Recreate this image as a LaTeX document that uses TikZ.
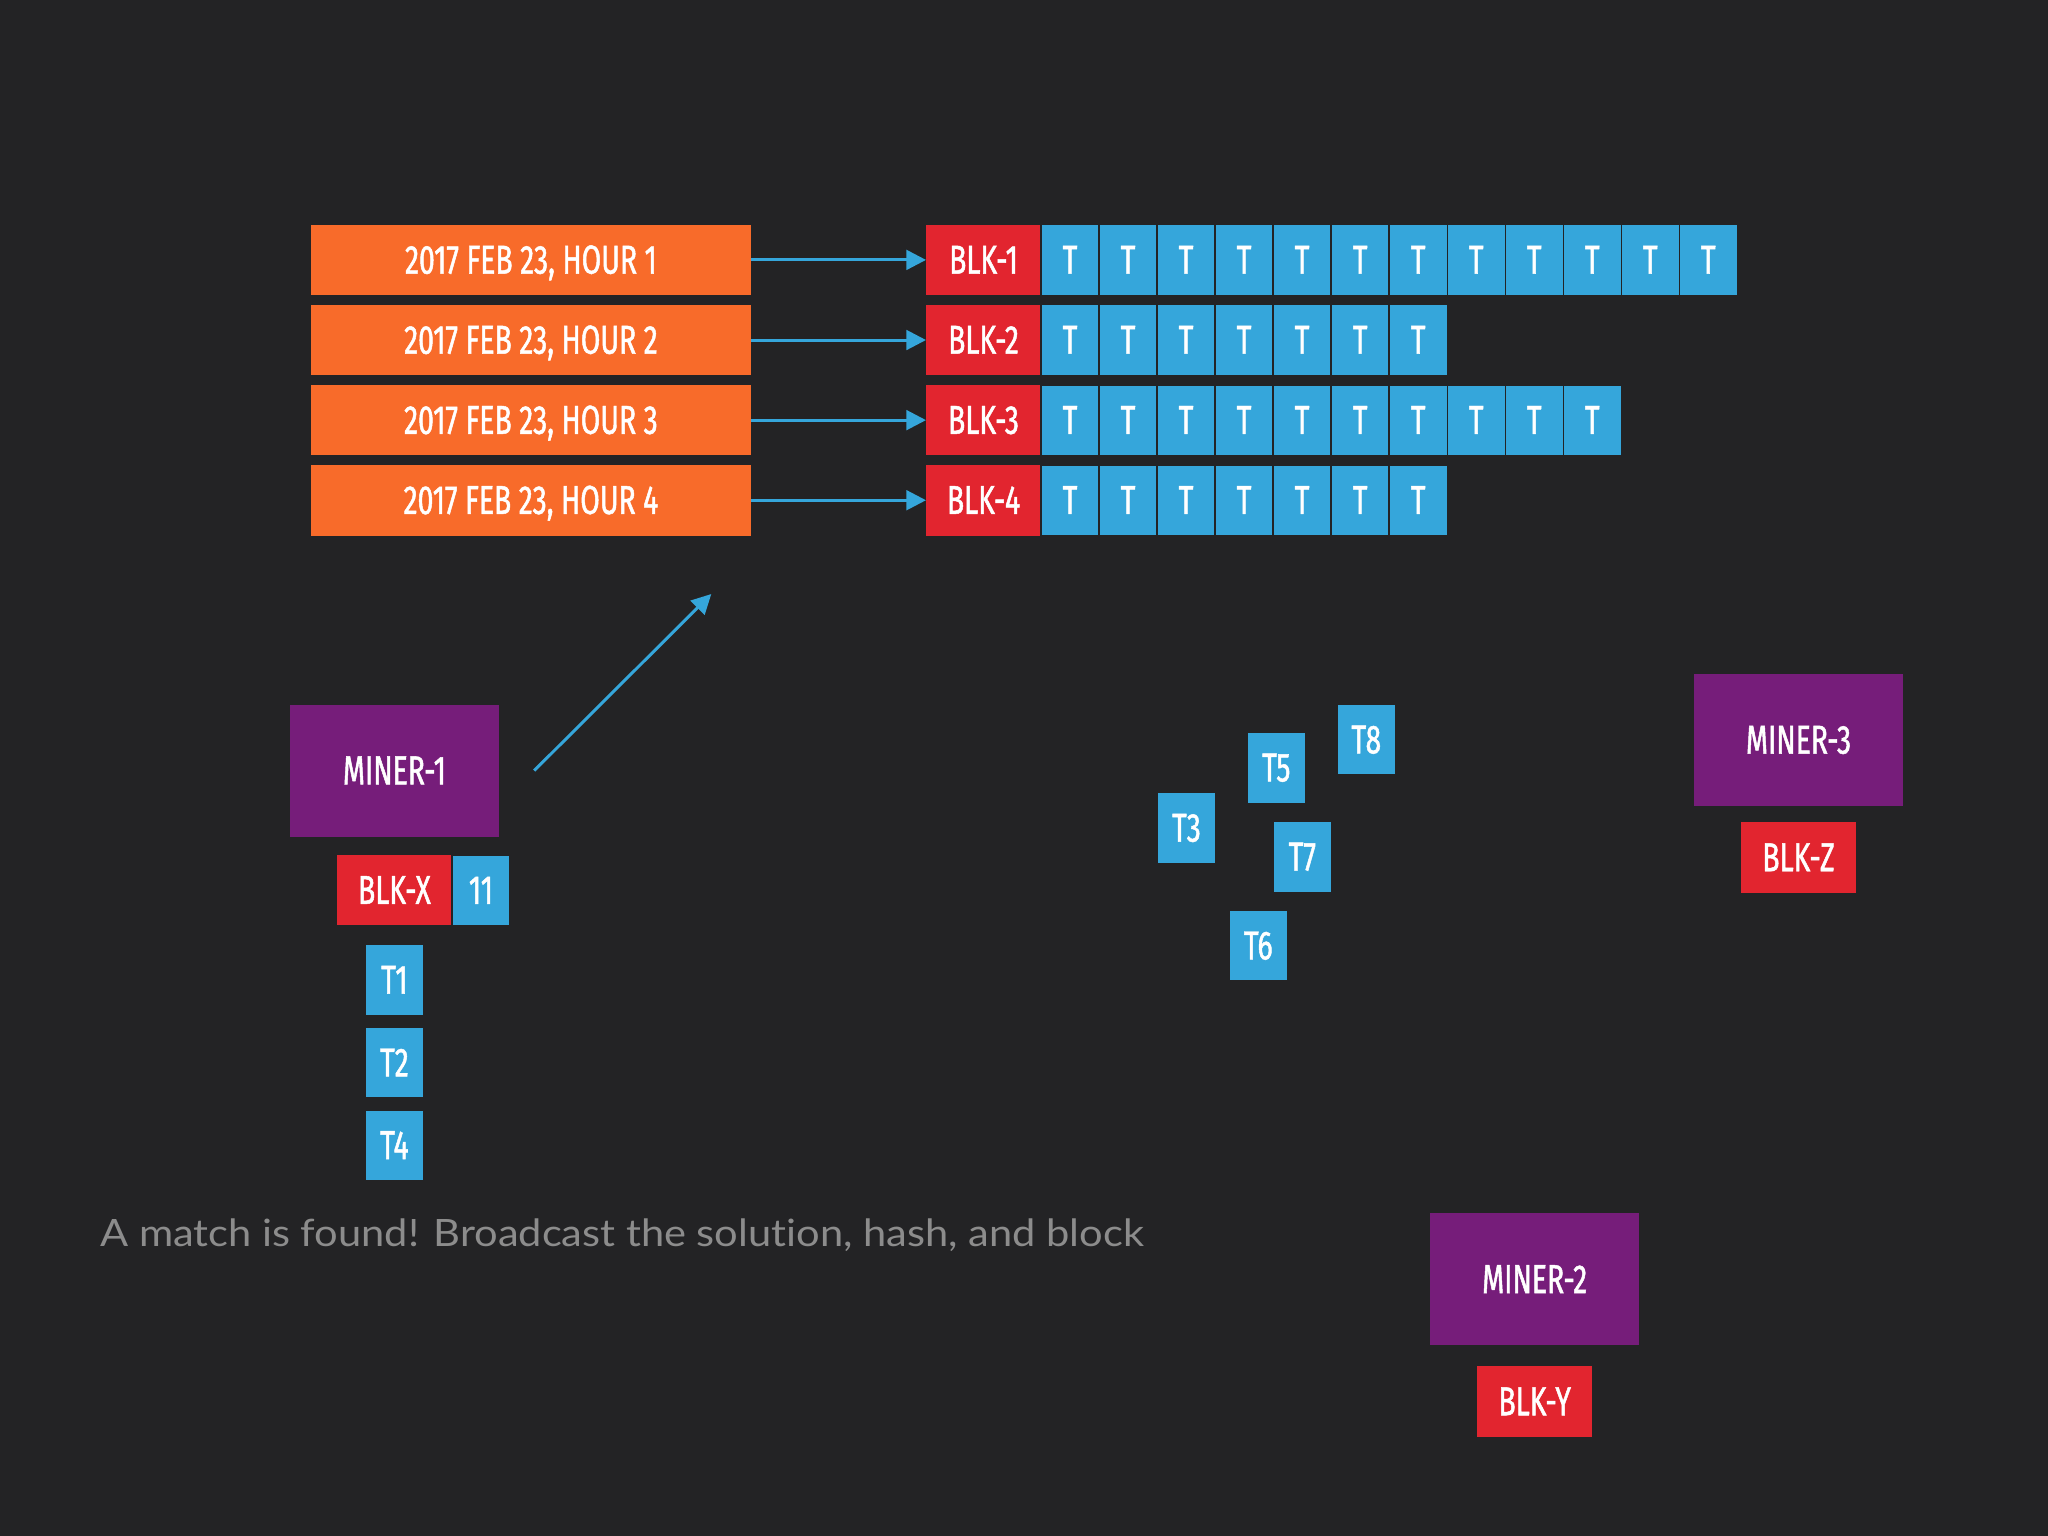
\documentclass[tikz,border=0pt]{standalone}
\usepackage{fontspec}
\setmainfont{Lato}
\newfontfamily\condfont[FakeStretch=0.70, FakeBold=1.2]{Fira Sans}
\newfontfamily\capfont[FakeStretch=1.105, Ligatures=NoCommon]{Lato}
\usetikzlibrary{positioning,arrows.meta}
\definecolor{bgdark}{HTML}{232325}
\definecolor{hourorange}{HTML}{F86B2A}
\definecolor{blkred}{HTML}{E2252F}
\definecolor{txblue}{HTML}{35A6DB}
\definecolor{minerpurple}{HTML}{761D7A}
\definecolor{capgray}{HTML}{8C8C8C}
\tikzset{
  box/.style={
    rectangle,
    inner sep=0pt, outer sep=0pt,
    text=white,
    font=\condfont\fontsize{8.8}{10}\selectfont,
    text height=2.1mm, text depth=0pt,
    minimum height=5.4mm},
  hourbox/.style={box, fill=hourorange, minimum width=33.7mm},
  blkbox/.style={box, fill=blkred, minimum width=8.8mm},
  txcell/.style={box, fill=txblue, draw=bgdark, line width=0.3pt, minimum width=4.44mm},
  poolcell/.style={box, fill=txblue, minimum width=4.35mm, minimum height=5.33mm},
  minerbox/.style={box, fill=minerpurple, minimum width=16mm, minimum height=10.1mm},
  link/.style={draw=txblue, line width=0.65pt, -{Triangle[length=1.5mm,width=1.5mm]}},
}
\begin{document}
\begin{tikzpicture}[x=0.01cm, y=-0.01cm]
  \fill[bgdark] (0,0) rectangle (1568,1176);

  % the chain of hourly blocks
  \foreach \r/\n in {1/12,2/7,3/10,4/7}{
    \pgfmathsetmacro\ry{199+61.33*(\r-1)}
    \node[hourbox] (hour\r) at (406.5,\ry) {2017 FEB 23, HOUR \r};
    \node[blkbox, alias=tx\r-0] (blk\r) at (753,\ry) {BLK-\r};
    \path[link] (hour\r) -- (blk\r);
    \foreach \c in {1,...,\n}{
      \pgfmathtruncatemacro\p{\c-1}
      \node[txcell, right=0pt of tx\r-\p] (tx\r-\c) {T};
    }
  }

  % miner 1 with its block
  \node[minerbox] (miner1) at (302,590) {MINER-1};
    \node[blkbox, below=1.4mm of miner1] (blkx) {BLK-X};
    \node[txcell, right=0pt of blkx] (nonce) {11};
    \node[poolcell, below=1.5mm of blkx] (t1) {T1};
    \node[poolcell, below=1mm of t1] (t2) {T2};
    \node[poolcell, below=1mm of t2] (t4) {T4};

  \coordinate (sendfrom) at (409,590);
  \coordinate (sendto) at (544.6,454.8);
  \path[link] (sendfrom) -- (sendto);

  % waiting transactions
  \node[poolcell] (t3) at (908.4,633.9) {T3};
  \node[poolcell] (t5) at (977.2,587.8) {T5};
  \node[poolcell] (t8) at (1046.1,566.3) {T8};
  \node[poolcell] (t7) at (997.1,656) {T7};
  \node[poolcell] (t6) at (963.4,724) {T6};

  % the other miners
  \node[minerbox] (miner3) at (1377,566.5) {MINER-3};
    \node[blkbox, below=1.25mm of miner3] (blkz) {BLK-Z};
  \node[minerbox] (miner2) at (1175,979.5) {MINER-2};
    \node[blkbox, below=1.6mm of miner2] (blky) {BLK-Y};

  \node[anchor=base west, inner sep=0pt, text=capgray, font=\capfont\fontsize{8.2}{10}\selectfont]
    (caption) at (76,954) {A match is found! Broadcast the solution, hash, and block};
\end{tikzpicture}
\end{document}
